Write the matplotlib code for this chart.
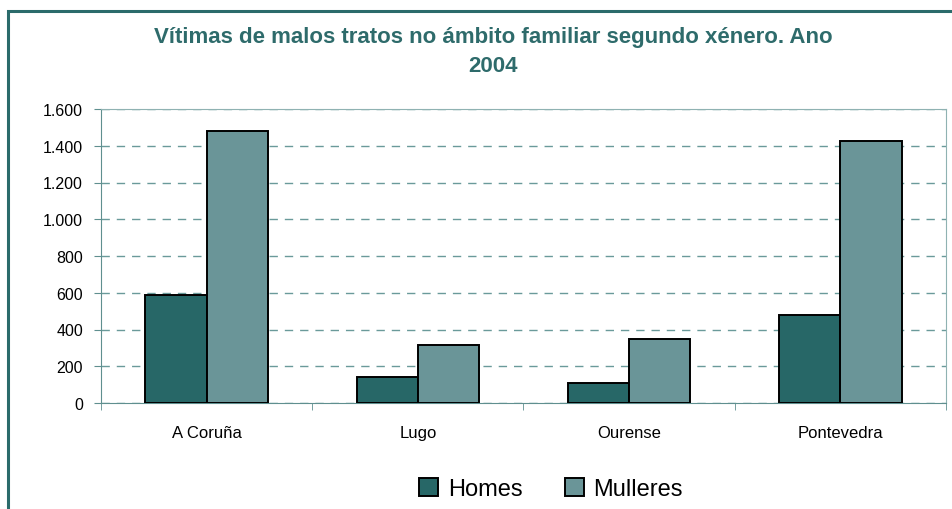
import numpy as np
import matplotlib.pyplot as plt
from matplotlib.patches import Rectangle
from matplotlib.ticker import FuncFormatter

categorias = ['A Coruña', 'Lugo', 'Ourense', 'Pontevedra']
homes = [588, 141, 109, 479]
mulleres = [1480, 316, 348, 1426]

plt.rcParams['font.family'] = ['Liberation Sans', 'DejaVu Sans']

fig = plt.figure(figsize=(9.53, 5.10), dpi=100)
ax = fig.add_axes([101/953, 1-404/510, 845/953, 294/510])

# marco exterior
fig.patches.append(Rectangle((8/953, -0.05), 1.0, 1-12/510+0.05, transform=fig.transFigure,
                             fill=False, edgecolor='#2b6b6b', linewidth=2.2))

x = np.arange(len(categorias))
w = 0.29
ax.bar(x - w/2, homes, w, color='#276767', edgecolor='black', linewidth=1.4, label='Homes', zorder=3)
ax.bar(x + w/2, mulleres, w, color='#6a9598', edgecolor='black', linewidth=1.4, label='Mulleres', zorder=3)

ax.set_xlim(-0.5, len(categorias) - 0.5)
ax.set_ylim(0, 1600)
ax.set_yticks(np.arange(0, 1601, 200))
ax.yaxis.set_major_formatter(FuncFormatter(lambda v, p: f'{int(v):,}'.replace(',', '.')))
ax.grid(axis='y', linestyle=(0, (6, 5)), color='#6a9a9a', linewidth=1.0, zorder=0)

ax.set_xticks(x)
ax.set_xticklabels(categorias, fontsize=12)
ax.tick_params(axis='x', length=0, pad=16)
ax.set_xticks(np.arange(-0.5, len(categorias), 1), minor=True)
ax.tick_params(axis='x', which='minor', length=5, color='#5f8f8f')
ax.tick_params(axis='y', labelsize=11.5, length=5, color='#5f8f8f', pad=8)

for s in ['left', 'bottom']:
    ax.spines[s].set_color('#5f8f8f')
ax.spines['top'].set_color('#8fb2b2')
ax.spines['right'].set_color('#8fb2b2')

fig.text(493/953, 1-37/510, 'Vítimas de malos tratos no ámbito familiar segundo xénero. Ano',
         ha='center', va='center', fontsize=16, fontweight='bold', color='#2e6b6b')
fig.text(493/953, 1-67/510, '2004', ha='center', va='center', fontsize=16,
         fontweight='bold', color='#2e6b6b')

fig.legend(loc='center', bbox_to_anchor=(551/953, 1-490/510), ncol=2, frameon=False,
           fontsize=17, handlelength=0.8, handleheight=0.8, handletextpad=0.4,
           columnspacing=1.8)

fig.savefig('out.png', dpi=100)
